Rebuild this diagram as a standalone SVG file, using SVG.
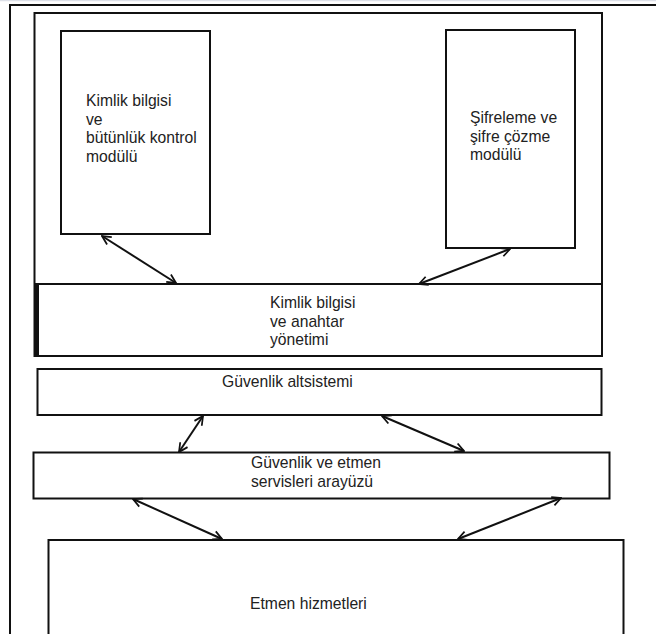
<svg xmlns="http://www.w3.org/2000/svg" width="656" height="634" viewBox="0 0 656 634">
<style>
.box{fill:#fff;stroke:#111;stroke-width:2}
.t{font-family:"Liberation Sans",Arial,sans-serif;font-size:15.7px;fill:#222}
.c{fill:none;stroke:#111;stroke-width:2;marker-start:url(#ah);marker-end:url(#ah)}
</style>
<defs>
<marker id="ah" viewBox="0 0 10 10" refX="9" refY="5" markerWidth="5.5" markerHeight="5.5" orient="auto-start-reverse" markerUnits="strokeWidth">
<path d="M1,1 L9,5 L1,9" fill="none" stroke="#111" stroke-width="1.6"/>
</marker>
</defs>
<rect width="656" height="634" fill="#fff"/>
<line x1="0" y1="0.5" x2="656" y2="0.5" stroke="#dde0e8" stroke-width="1.5"/>
<g id="outer-frame">
<path d="M10,634 V5 H656" fill="none" stroke="#111" stroke-width="2"/>
</g>
<g id="inner-frame">
<rect class="box" x="34.5" y="13" width="567.5" height="343"/>
</g>
<g id="kimlik-butunluk">
<rect class="box" x="61" y="31" width="149" height="203"/>
<text class="t" x="86" y="106">Kimlik bilgisi</text>
<text class="t" x="86" y="124.5">ve</text>
<text class="t" x="86" y="143">bütünlük kontrol</text>
<text class="t" x="86" y="161.5">modülü</text>
</g>
<g id="sifreleme">
<rect class="box" x="446" y="30" width="129" height="218"/>
<text class="t" x="470" y="123">Şifreleme ve</text>
<text class="t" x="470" y="141.5">şifre çözme</text>
<text class="t" x="470" y="160">modülü</text>
</g>
<g id="anahtar-yonetimi">
<rect class="box" x="36" y="284" width="566" height="72"/>
<line x1="37" y1="284" x2="37" y2="357" stroke="#111" stroke-width="4"/>
<text class="t" x="270" y="308">Kimlik bilgisi</text>
<text class="t" x="270" y="326.5">ve anahtar</text>
<text class="t" x="270" y="345">yönetimi</text>
</g>
<g id="guvenlik-altsistemi">
<rect class="box" x="37.5" y="369" width="564" height="46"/>
<text class="t" x="222" y="387">Güvenlik altsistemi</text>
</g>
<g id="guvenlik-etmen-arayuz">
<rect class="box" x="33.5" y="452.5" width="576" height="46"/>
<text class="t" x="251" y="467.5">Güvenlik ve etmen</text>
<text class="t" x="251" y="486.5">servisleri arayüzü</text>
</g>
<g id="etmen-hizmetleri">
<rect class="box" x="48.5" y="540" width="575" height="100"/>
<text class="t" x="250" y="609">Etmen hizmetleri</text>
</g>
<g id="connectors">
<line class="c" x1="102" y1="236" x2="176" y2="283"/>
<line class="c" x1="510" y1="249" x2="419" y2="284"/>
<line class="c" x1="203" y1="416" x2="179" y2="452"/>
<line class="c" x1="382" y1="416" x2="464" y2="451"/>
<line class="c" x1="133" y1="499" x2="222" y2="539"/>
<line class="c" x1="561" y1="498" x2="458" y2="539"/>
</g>
</svg>
